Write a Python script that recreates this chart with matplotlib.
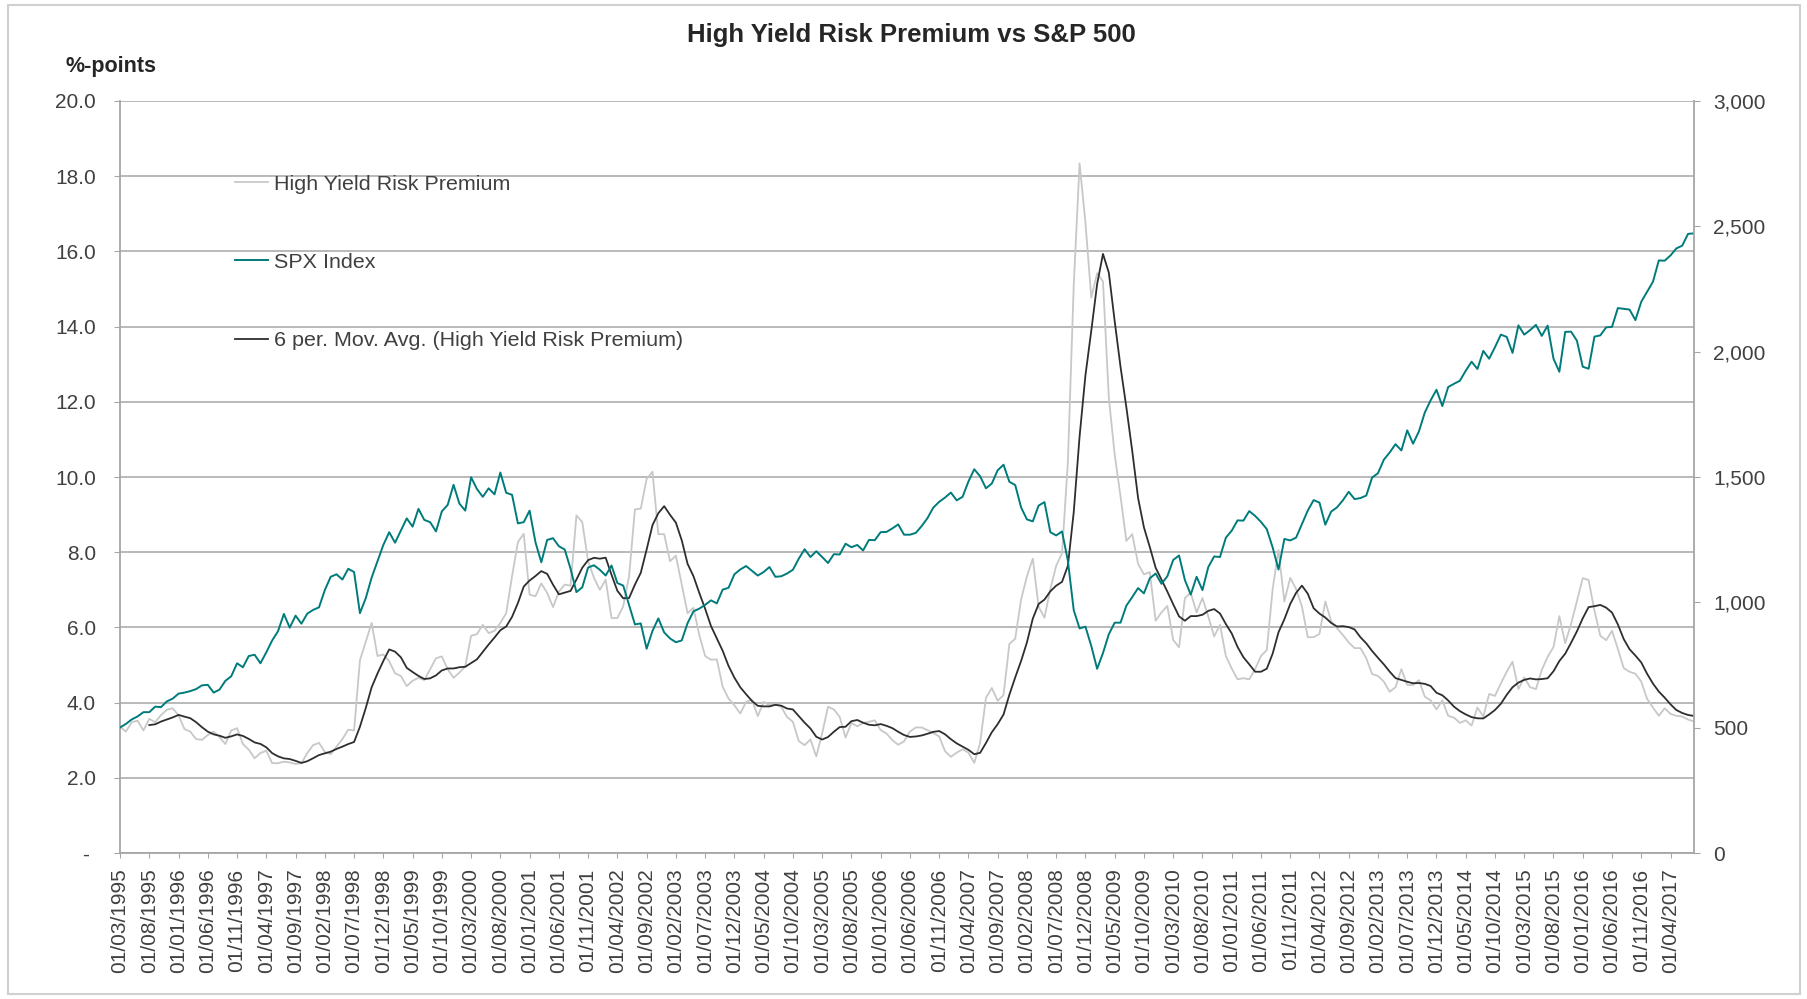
import numpy as np
import pandas as pd
import matplotlib
matplotlib.use('Agg')
import matplotlib.pyplot as plt
from matplotlib.patches import Rectangle

plt.rcParams['font.family'] = ['Liberation Sans', 'DejaVu Sans']

# monthly, 01/03/1995 .. 01/08/2017
start_month = '1995-03-01'

# high yield risk premium, %-points
hy = [
    3.36, 3.23, 3.48, 3.52, 3.26, 3.57, 3.48, 3.67, 3.81, 3.85,
    3.66, 3.30, 3.23, 3.03, 3.01, 3.14, 3.23, 3.08, 2.90, 3.26,
    3.32, 2.90, 2.75, 2.52, 2.66, 2.72, 2.39, 2.39, 2.43, 2.41,
    2.37, 2.39, 2.66, 2.87, 2.93, 2.69, 2.63, 2.83, 3.03, 3.28,
    3.26, 5.13, 5.62, 6.12, 5.24, 5.28, 5.10, 4.78, 4.71, 4.44,
    4.58, 4.66, 4.60, 4.89, 5.18, 5.23, 4.89, 4.66, 4.80, 4.96,
    5.78, 5.82, 6.07, 5.85, 5.91, 6.12, 6.38, 7.36, 8.27, 8.49,
    6.87, 6.83, 7.17, 6.92, 6.54, 6.95, 7.14, 7.11, 8.98, 8.80,
    7.76, 7.32, 7.00, 7.27, 6.25, 6.25, 6.56, 7.36, 9.14, 9.16,
    9.95, 10.14, 8.48, 8.48, 7.76, 7.91, 7.14, 6.38, 6.52, 5.80,
    5.24, 5.14, 5.15, 4.42, 4.11, 3.93, 3.71, 4.02, 4.08, 3.64,
    4.02, 3.93, 3.96, 3.89, 3.62, 3.49, 2.98, 2.87, 3.02, 2.57,
    3.18, 3.89, 3.82, 3.62, 3.07, 3.46, 3.37, 3.46, 3.49, 3.53,
    3.27, 3.18, 3.00, 2.88, 2.97, 3.23, 3.34, 3.34, 3.27, 3.19,
    3.10, 2.71, 2.56, 2.67, 2.76, 2.67, 2.40, 2.93, 4.13, 4.39,
    4.05, 4.20, 5.56, 5.70, 6.74, 7.36, 7.83, 6.55, 6.26, 7.02,
    7.64, 7.97, 10.40, 15.10, 18.34, 16.77, 14.77, 15.42, 15.20, 12.10,
    10.60, 9.48, 8.30, 8.48, 7.69, 7.41, 7.47, 6.18, 6.40, 6.57,
    5.67, 5.47, 6.78, 6.92, 6.40, 6.78, 6.29, 5.76, 6.07, 5.24,
    4.91, 4.62, 4.65, 4.62, 4.89, 5.24, 5.40, 7.02, 8.06, 6.69,
    7.32, 7.02, 6.56, 5.74, 5.74, 5.83, 6.69, 6.16, 5.98, 5.80,
    5.60, 5.45, 5.45, 5.18, 4.76, 4.71, 4.56, 4.29, 4.41, 4.89,
    4.47, 4.47, 4.60, 4.16, 4.06, 3.82, 4.06, 3.65, 3.60, 3.46,
    3.53, 3.39, 3.87, 3.63, 4.23, 4.18, 4.51, 4.82, 5.09, 4.36,
    4.67, 4.41, 4.36, 4.87, 5.22, 5.48, 6.30, 5.58, 6.09, 6.70,
    7.31, 7.26, 6.45, 5.78, 5.66, 5.91, 5.43, 4.92, 4.82, 4.77,
    4.56, 4.10, 3.87, 3.65, 3.85, 3.70, 3.65, 3.63, 3.55, 3.50,
]

# SPX Index, month end
spx = [
    501, 515, 533, 545, 562, 562, 584, 582, 605, 616,                 # 1995
    636, 640, 646, 654, 669, 671, 640, 652, 687, 705, 757, 741,       # 1996
    786, 791, 757, 801, 848, 885, 954, 899, 947, 915, 955, 970,       # 1997
    980, 1049, 1102, 1112, 1091, 1134, 1121, 957, 1017, 1099, 1164, 1229,
    1280, 1238, 1286, 1335, 1302, 1373, 1329, 1320, 1283, 1363, 1389, 1469,
    1394, 1366, 1499, 1452, 1421, 1455, 1431, 1518, 1437, 1429, 1315, 1320,
    1366, 1240, 1160, 1249, 1256, 1224, 1211, 1134, 1041, 1060, 1139, 1148,
    1130, 1107, 1147, 1077, 1067, 990, 912, 916, 815, 886, 936, 880,
    856, 841, 848, 917, 964, 975, 990, 1008, 996, 1051, 1058, 1112,
    1131, 1145, 1126, 1107, 1121, 1141, 1102, 1104, 1115, 1130, 1174, 1212,
    1181, 1204, 1181, 1157, 1192, 1191, 1234, 1220, 1229, 1207, 1249, 1248,
    1280, 1281, 1295, 1311, 1270, 1270, 1277, 1304, 1336, 1378, 1401, 1418,
    1438, 1407, 1421, 1482, 1531, 1503, 1455, 1474, 1527, 1549, 1481, 1468,
    1379, 1331, 1323, 1386, 1400, 1280, 1267, 1283, 1166, 969, 896, 903,
    826, 735, 798, 873, 919, 919, 987, 1021, 1057, 1036, 1096, 1115,
    1074, 1104, 1169, 1187, 1089, 1031, 1102, 1049, 1141, 1183, 1181, 1258,
    1286, 1327, 1326, 1364, 1345, 1321, 1292, 1219, 1131, 1253, 1247, 1258,
    1312, 1366, 1408, 1398, 1310, 1362, 1379, 1407, 1441, 1412, 1416, 1426,
    1498, 1515, 1569, 1598, 1631, 1606, 1686, 1633, 1682, 1757, 1806, 1848,
    1783, 1859, 1872, 1884, 1924, 1960, 1931, 2003, 1972, 2018, 2068, 2059,
    1995, 2105, 2068, 2086, 2107, 2063, 2104, 1972, 1920, 2079, 2080, 2044,
    1940, 1932, 2060, 2065, 2097, 2099, 2174, 2171, 2168, 2126, 2199, 2239,
    2279, 2364, 2363, 2384, 2412, 2423, 2470, 2472,                   # 2017
]

dates = pd.date_range(start_month, periods=len(hy), freq='MS')
date_labels = [d.strftime('%d/%m/%Y') for d in dates]
hy_ma = pd.Series(hy).rolling(6).mean()

grid_c = '#a6a6a6'
txt_c = '#404040'

fig = plt.figure(figsize=(18.08, 9.99), dpi=100)
ax = fig.add_axes([0.0664, 0.1461, 0.8705, 0.7528])
ax2 = ax.twinx()

x = np.arange(len(hy))
l1, = ax.plot(x, hy, color='#c8c8c8', lw=1.3)
l3, = ax.plot(x, hy_ma, color='#2e2e2e', lw=1.3)
l2, = ax2.plot(x, spx, color='#007b7b', lw=1.4)

ax.set_xlim(0, len(hy) - 1)
ax.set_ylim(0, 20)
ax2.set_ylim(0, 3000)

ax.set_yticks(np.arange(0, 21, 2))
ax.set_yticklabels(['- '] + ['%.1f' % v for v in range(2, 21, 2)])
ax2.set_yticks(np.arange(0, 3001, 500))
ax2.set_yticklabels(['{:,}'.format(v) for v in range(0, 3001, 500)])
ax.set_xticks(x[::5])
ax.set_xticklabels(date_labels[::5], rotation=90)

ax.grid(axis='y', color=grid_c, lw=1.1)
ax.set_axisbelow(True)
for s in ['top', 'right']:
    ax.spines[s].set_visible(False)
for s in ['top', 'left', 'bottom']:
    ax2.spines[s].set_visible(False)
ax.spines['left'].set_color(grid_c)
ax.spines['bottom'].set_color(grid_c)
ax2.spines['right'].set_color(grid_c)
for s in [ax.spines['left'], ax.spines['bottom'], ax2.spines['right']]:
    s.set_linewidth(1.3)

ax.tick_params(axis='y', length=4.3, color=grid_c, pad=13, labelsize=15, labelcolor=txt_c)
ax.tick_params(axis='x', length=3.6, color=grid_c, pad=7.5, labelsize=15, labelcolor=txt_c)
ax2.tick_params(axis='y', length=4.3, color=grid_c, pad=9.4, labelsize=15, labelcolor=txt_c)

fig.text(0.504, 0.965, 'High Yield Risk Premium vs S&P 500', ha='center', va='center',
         fontsize=18.5, fontweight='bold', color='#262626')
fig.text(66 / 1808, 1 - 72 / 999, '%-points', ha='left', va='baseline',
         fontsize=15.5, fontweight='bold', color='#262626')

leg = fig.legend([l1, l2, l3],
                 ['High Yield Risk Premium', 'SPX Index', '6 per. Mov. Avg. (High Yield Risk Premium)'],
                 loc='upper left', bbox_to_anchor=(235 / 1808, 1 - 174.5 / 999), frameon=False,
                 fontsize=15.45, handlelength=1.54, handletextpad=0.28, labelspacing=2.77,
                 borderpad=0, borderaxespad=0)
for t in leg.get_texts():
    t.set_color(txt_c)

fig.patches.append(Rectangle((0.0045, 0.005), 0.991, 0.99, transform=fig.transFigure,
                             fill=False, ec='#d0d0d0', lw=1.5))

fig.savefig('out.png', dpi=100)
